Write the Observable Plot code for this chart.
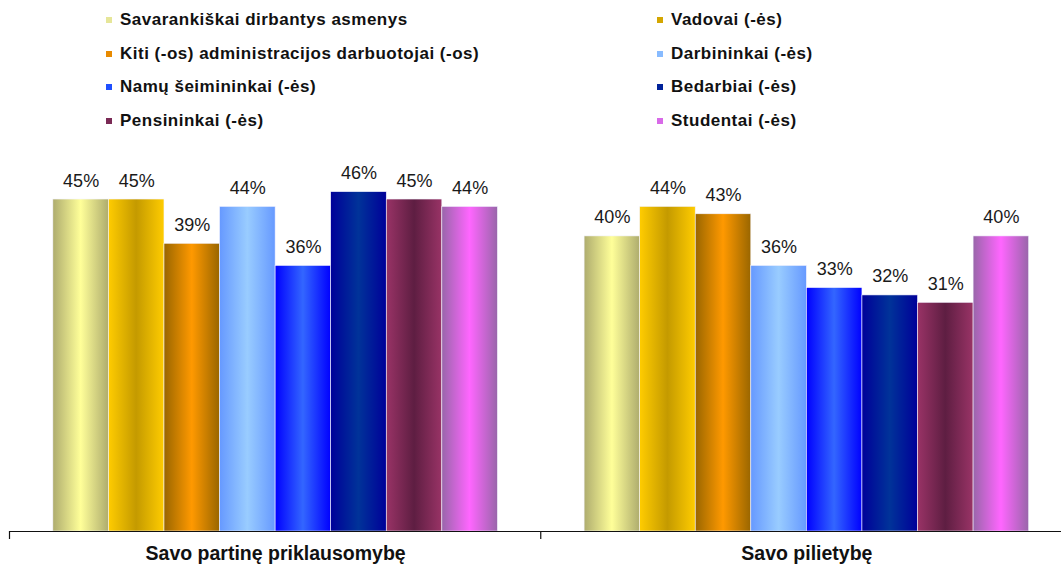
<!DOCTYPE html>
<html>
<head>
<meta charset="utf-8">
<script src="https://cdn.jsdelivr.net/npm/d3@7"></script>
<script src="https://cdn.jsdelivr.net/npm/@observablehq/plot@0.6"></script>
<style>
  html, body { margin: 0; padding: 0; background: #fff; }
  #wrap { position: relative; width: 1061px; height: 566px; overflow: hidden; font-family: "Liberation Sans", Arial, sans-serif; }
  #legend { position: relative; width: 1061px; height: 140px; }
  .li { position: absolute; display: flex; align-items: center; height: 24px; font-weight: bold; font-size: 17px; color: #111; letter-spacing: 0.5px; white-space: nowrap; }
  .li .sw { width: 6px; height: 6px; margin-right: 8px; flex: none; }
  #chart svg { display: block; }
</style>
</head>
<body>
<div id="wrap">
  <div id="legend"></div>
  <div id="chart"></div>
</div>
<script>
// ---- data ----
const groups = ["Savo partinę priklausomybę", "Savo pilietybę"];
const series = [
  "Savarankiškai dirbantys asmenys",
  "Vadovai (-ės)",
  "Kiti (-os) administracijos darbuotojai (-os)",
  "Darbininkai (-ės)",
  "Namų šeimininkai (-ės)",
  "Bedarbiai (-ės)",
  "Pensininkai (-ės)",
  "Studentai (-ės)"
];
const partinePriklausomybe = [45, 45, 39, 44, 36, 46, 45, 44];
const pilietybe = [40, 44, 43, 36, 33, 32, 31, 40];

// gradient stops per series: [edge, center, edge]
const gradients = [
  ["#aeac6e", "#ffff99", "#aeac6e"],
  ["#ffcc00", "#c49a00", "#ffcc00"],
  ["#996600", "#ff9900", "#996600"],
  ["#6699ff", "#99ccff", "#6699ff"],
  ["#0000ff", "#3366ff", "#0000ff"],
  ["#000099", "#003399", "#000099"],
  ["#993366", "#5e1e42", "#993366"],
  ["#9966aa", "#ff66ff", "#9966aa"]
];
const legendColors = ["#e6e699", "#d4a600", "#e88a00", "#88bbff", "#1f4fff", "#00229a", "#7a2a55", "#d86ae8"];

const valuesByGroup = [partinePriklausomybe, pilietybe];
const data = [];
groups.forEach((g, gi) => series.forEach((s, si) => data.push({group: g, series: s, value: valuesByGroup[gi][si]})));

// ---- legend ----
const legend = document.getElementById("legend");
series.forEach((s, i) => {
  const el = document.createElement("div");
  el.className = "li";
  el.style.left = (i % 2 === 0 ? 106 : 657) + "px";
  el.style.top = (8 + Math.floor(i / 2) * 33.5) + "px";
  el.innerHTML = `<span class="sw" style="background:${legendColors[i]}"></span><span>${s}</span>`;
  legend.appendChild(el);
});

// ---- chart ----
const plot = Plot.plot({
  width: 1061,
  height: 426,
  marginTop: 0,
  marginBottom: 35,
  marginLeft: 9.5,
  marginRight: -11,
  style: {fontFamily: '"Liberation Sans", Arial, sans-serif', background: "white"},
  fx: {domain: groups, padding: 0, label: null, round: false},
  x: {domain: series, paddingInner: 0, paddingOuter: 0.78, round: false, axis: null},
  y: {domain: [0, 53], axis: null},
  color: {domain: series, range: series.map((_, i) => `url(#grad${i})`)},
  marks: [
    Plot.barY(data, {fx: "group", x: "series", y: "value", fill: "series", stroke: "#f4f4ff", strokeWidth: 0.6, inset: 0}),
    Plot.text(data, {fx: "group", x: "series", y: "value", text: d => d.value + "%", dy: -13, lineAnchor: "bottom", fontSize: 18, fill: "#1a1a1a"}),
    Plot.ruleY([0], {stroke: "#111", strokeWidth: 1.2}),
    Plot.axisFx({anchor: "bottom", tickSize: 0, tickPadding: 15, fontSize: 19.5, fontWeight: "bold", fill: "#111", label: null})
  ]
});

// gradient definitions
const svg = d3.select(plot);
const defs = svg.insert("defs", ":first-child");
gradients.forEach((stops, i) => {
  const lg = defs.append("linearGradient").attr("id", `grad${i}`).attr("x1", "0").attr("x2", "1").attr("y1", "0").attr("y2", "0");
  lg.append("stop").attr("offset", "0%").attr("stop-color", stops[0]);
  lg.append("stop").attr("offset", "50%").attr("stop-color", stops[1]);
  lg.append("stop").attr("offset", "100%").attr("stop-color", stops[2]);
});

// group separator ticks below the baseline
const fxScale = plot.scale("fx");
const yScale = plot.scale("y");
const y0 = yScale.apply(0);
groups.forEach(g => {
  const x = fxScale.apply(g);
  svg.append("line").attr("x1", x).attr("x2", x).attr("y1", y0).attr("y2", y0 + 8)
    .attr("stroke", "#111").attr("stroke-width", 1.2);
});

document.getElementById("chart").appendChild(plot);
</script>
</body>
</html>
